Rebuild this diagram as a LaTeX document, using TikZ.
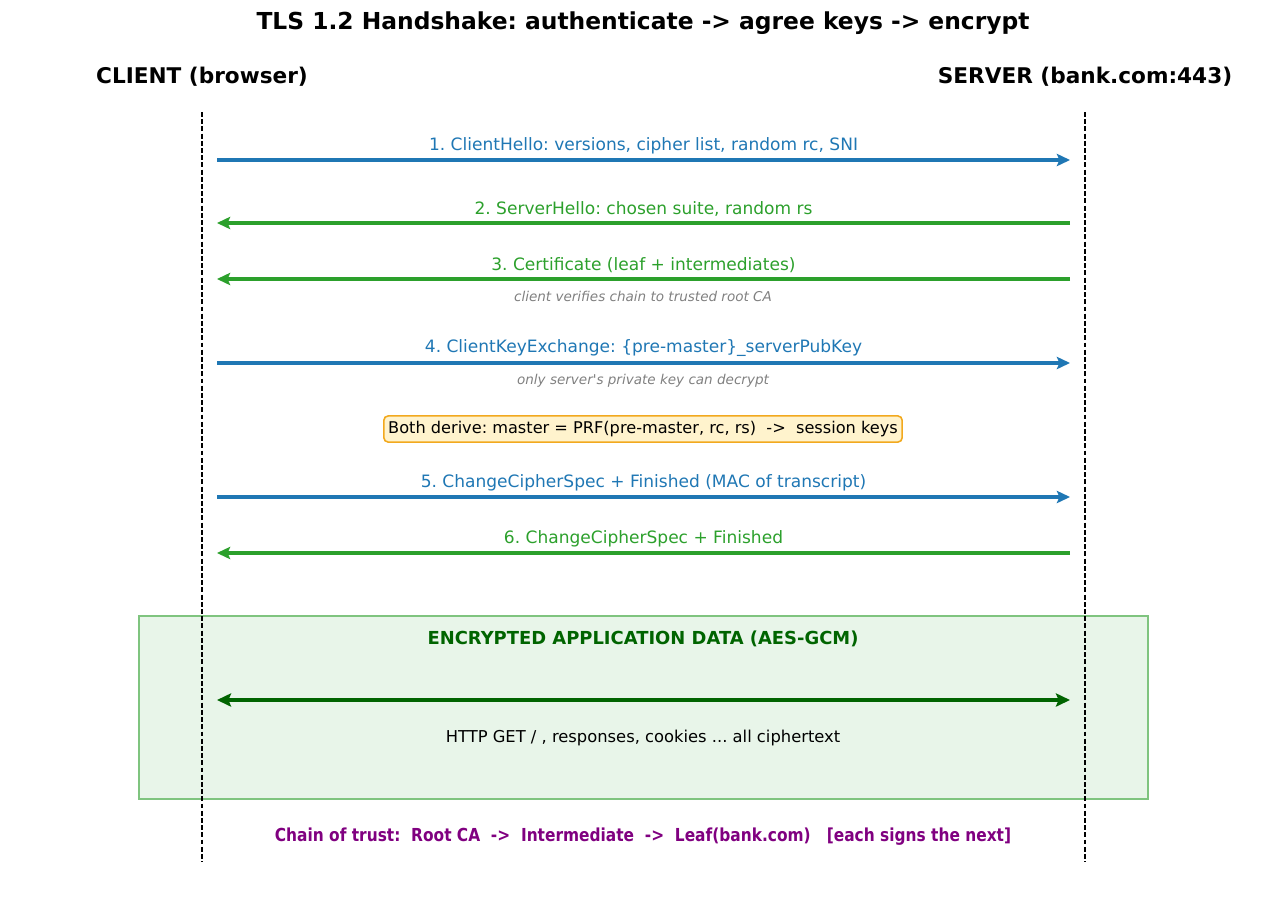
\documentclass[tikz,border=0pt]{standalone}
\usepackage{fontspec}
\setmainfont{DejaVu Sans}[Ligatures=TeXOff]
\newfontfamily\chainfont[FakeStretch=0.86]{DejaVu Sans}
\usetikzlibrary{arrows.meta}
\definecolor{msgblue}{HTML}{1F77B4}
\definecolor{msggreen}{HTML}{2CA02C}
\definecolor{encgreen}{HTML}{006400}
\definecolor{notegray}{HTML}{808080}
\definecolor{chainpurple}{HTML}{800080}
\definecolor{keyfill}{HTML}{FFF3CD}
\definecolor{keyedge}{HTML}{F2A91E}
\definecolor{encfill}{HTML}{E8F5E9}
\definecolor{encedge}{HTML}{7FC47F}
\frenchspacing

\begin{document}
\begin{tikzpicture}[
        x=0.02cm, y=-0.02cm,
        inner sep=0pt,
        lifeline/.style={black, line width=0.9pt, dash pattern=on 2.8pt off 1.3pt},
        toserver/.style={msgblue, line width=1.9pt, -{Stealth[length=7.5pt,width=7pt,inset=1.5pt]}},
        toclient/.style={msggreen, line width=1.9pt, -{Stealth[length=7.5pt,width=7pt,inset=1.5pt]}},
        msg/.style={above=2.5pt, font=\fontsize{9.7}{11}\selectfont},
        note/.style={notegray, font=\fontsize{7.7}{9}\selectfont\itshape},
        party/.style={font=\fontsize{12.3}{14}\selectfont\bfseries}
      ]
      \useasboundingbox (0,0) rectangle (1287,896);
      \node (title) at (643,23) [font=\fontsize{13.3}{15}\selectfont\bfseries] {TLS 1.2 Handshake: authenticate -> agree keys -> encrypt};
      \node (client) at (202,77) [party] {CLIENT (browser)};
      \node (server) at (1085,77) [party] {SERVER (bank.com:443)};
      \node (enc) [fill=encfill, draw=encedge, line width=0.9pt, minimum width=1009*0.02cm, minimum height=183*0.02cm] at (643.5,707.5) {};
      \coordinate (ctop) at (202,112);
      \coordinate (cbot) at (202,862);
      \coordinate (stop) at (1085,112);
      \coordinate (sbot) at (1085,862);
      \draw [lifeline] (ctop) -- (cbot);
      \draw [lifeline] (stop) -- (sbot);
      \coordinate (c1) at (217,160); \coordinate (s1) at (1070,160);
      \coordinate (c2) at (217,223); \coordinate (s2) at (1070,223);
      \coordinate (c3) at (217,279); \coordinate (s3) at (1070,279);
      \coordinate (c4) at (217,363); \coordinate (s4) at (1070,363);
      \coordinate (c5) at (217,497); \coordinate (s5) at (1070,497);
      \coordinate (c6) at (217,553); \coordinate (s6) at (1070,553);
      \coordinate (c7) at (217,700); \coordinate (s7) at (1070,700);
      \draw [toserver] (c1) -- node (m1) [msgblue, msg] {1. ClientHello: versions, cipher list, random rc, SNI} (s1);
      \draw [toclient] (s2) -- node (m2) [msggreen, msg] {2. ServerHello: chosen suite, random rs} (c2);
      \draw [toclient] (s3) -- node (m3) [msggreen, msg] {3. Certificate (leaf + intermediates)} (c3);
      \node (n3) at (643,296) [note] {client verifies chain to trusted root CA};
      \draw [toserver] (c4) -- node (m4) [msgblue, msg] {4. ClientKeyExchange: \{pre-master\}\_serverPubKey} (s4);
      \node (n4) at (643,381) [note] {only server's private key can decrypt};
      \node (keys) at (643,429) [fill=keyfill, draw=keyedge, line width=0.9pt, rounded corners=2.5pt, inner xsep=2.5pt, inner ysep=3pt, font=\fontsize{9.2}{11}\selectfont] {Both derive: master = PRF(pre-master, rc, rs) \ ->\ \ session keys};
      \draw [toserver] (c5) -- node (m5) [msgblue, msg] {5. ChangeCipherSpec + Finished (MAC of transcript)} (s5);
      \draw [toclient] (s6) -- node (m6) [msggreen, msg] {6. ChangeCipherSpec + Finished} (c6);
      \node (enctitle) at (643,639) [encgreen, font=\fontsize{10.2}{12}\selectfont\bfseries] {ENCRYPTED APPLICATION DATA (AES-GCM)};
      \draw [encgreen, line width=2.3pt, {Stealth[length=8pt,width=7.5pt,inset=1.5pt]}-{Stealth[length=8pt,width=7.5pt,inset=1.5pt]}] (c7) -- (s7);
      \node (traffic) at (643,738) [font=\fontsize{9.3}{11}\selectfont] {HTTP GET / , responses, cookies .{}.{}. all ciphertext};
      \node (chain) at (643,837) [chainpurple, font=\chainfont\fontsize{10.2}{12}\selectfont\bfseries] {Chain of trust: \ Root CA \ -> \ Intermediate \ -> \ Leaf(bank.com) \ \ [each signs the next]};
    \end{tikzpicture}
\end{document}
